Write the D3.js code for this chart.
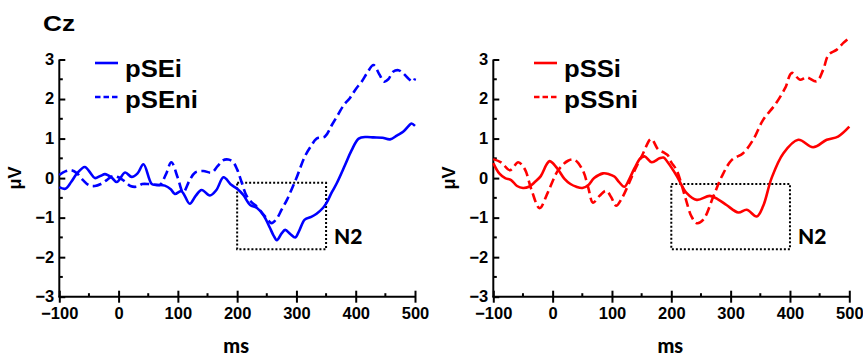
<!DOCTYPE html>
<html>
<head>
<meta charset="utf-8">
<script src="https://cdn.jsdelivr.net/npm/d3@7/dist/d3.min.js"></script>
<style>
  html, body { margin: 0; padding: 0; background: #fff; }
  svg { display: block; font-family: "Liberation Sans", Arial, sans-serif; font-weight: bold; }
</style>
</head>
<body>
<svg id="chart" width="863" height="358"></svg>
<script>
// ---------- data (ms, µV) ----------
const xTicks = [-100, 0, 100, 200, 300, 400, 500];
const yTicks = [-3, -2, -1, 0, 1, 2, 3];

const pSEi_ms = [-100,-90,-80,-70,-57,-47,-40,-30,-23,-12,-3,11,22,32,42,56,65,78,88,95,106,120,130,140,154,165,177,190,200,210,222,233,245,255,261,267,275,281,290,298,305,314,325,334,345,351,360,368,382,393,405,418,430,445,458,470,480,490,494,500];
const pSEi_uv = [-0.23,-0.27,-0.1,0.12,0.28,0.12,0.0,0.06,0.1,0.02,-0.1,0.14,0.03,0.12,0.35,-0.15,-0.17,-0.19,-0.28,-0.4,-0.33,-0.65,-0.45,-0.3,-0.44,-0.3,0.02,-0.17,-0.27,-0.42,-0.68,-0.75,-0.95,-1.25,-1.44,-1.57,-1.4,-1.31,-1.42,-1.5,-1.32,-1.05,-0.98,-0.9,-0.75,-0.62,-0.35,-0.13,0.33,0.7,1.0,1.04,1.03,1.02,0.98,1.08,1.17,1.33,1.38,1.32];

const pSEni_ms = [-100,-90,-80,-70,-60,-50,-40,-30,-20,-10,0,10,20,30,40,50,60,70,80,89,100,109,120,129,143,157,167,176,185,193,200,207,216,225,233,242,250,258,267,275,284,292,300,314,325,334,348,360,370,380,390,400,410,420,430,440,448,455,463,472,480,490,497,500];
const pSEni_uv = [0.08,0.17,0.2,0.12,-0.05,-0.18,-0.2,-0.15,-0.05,0.05,0.02,-0.08,-0.2,-0.22,-0.15,-0.15,-0.17,-0.17,0.1,0.4,0.0,-0.36,-0.05,0.14,0.18,0.14,0.3,0.45,0.47,0.41,0.22,-0.08,-0.45,-0.62,-0.72,-0.88,-1.02,-1.14,-1.02,-0.8,-0.55,-0.28,0.0,0.54,0.82,1.0,1.05,1.35,1.6,1.85,2.02,2.25,2.44,2.68,2.86,2.62,2.44,2.5,2.69,2.73,2.65,2.5,2.44,2.52];

const pSSi_ms = [-100,-90,-80,-70,-60,-50,-40,-30,-20,-10,-5,0,10,20,30,40,50,60,70,85,95,104,112,121,130,138,148,155,167,180,187,194,209,226,243,265,280,293,313,327,344,355,369,389,414,439,462,481,500];
const pSSi_uv = [0.38,0.12,0.0,-0.05,-0.2,-0.25,-0.22,-0.1,0.05,0.35,0.43,0.38,0.2,-0.02,-0.15,-0.22,-0.25,-0.18,0.0,0.12,0.1,0.04,-0.1,-0.22,0.0,0.25,0.5,0.55,0.4,0.5,0.52,0.4,0.06,-0.38,-0.55,-0.45,-0.55,-0.68,-0.87,-0.8,-0.97,-0.7,0.0,0.63,0.97,0.78,0.97,1.05,1.3];

const pSSni_ms = [-100,-87,-72,-58,-47,-36,-22,-8,9,26,37,51,60,68,79,90,99,107,116,127,138,152,166,178,187,194,200,209,223,234,243,254,271,285,302,321,338,355,375,392,403,417,428,445,456,465,479,490,500];
const pSSni_uv = [0.48,0.4,0.2,0.4,0.23,-0.28,-0.76,-0.36,0.19,0.44,0.46,0.19,-0.24,-0.62,-0.45,-0.32,-0.49,-0.7,-0.53,-0.19,0.19,0.61,0.99,0.72,0.65,0.58,0.4,0.2,-0.46,-0.97,-1.14,-1.05,-0.46,0.04,0.46,0.63,0.97,1.48,1.86,2.28,2.66,2.49,2.55,2.45,2.74,3.12,3.25,3.42,3.55];

const legendLeft = ["pSEi", "pSEni"];
const legendRight = ["pSSi", "pSSni"];
const colorLeft = "#0000ff";
const colorRight = "#ff0000";

// ---------- drawing ----------
const svg = d3.select("#chart");

svg.append("text").attr("x", 43).attr("y", 30.5)
  .attr("font-size", 22.5).attr("textLength", 32).attr("lengthAdjust", "spacingAndGlyphs")
  .text("Cz");

function panel(opts) {
  const x = d3.scaleLinear().domain([-100, 500]).range([opts.x0, opts.x1]);
  const y = d3.scaleLinear().domain([-3, 3]).range([296.7, 59.5]);
  const g = svg.append("g");

  // minor ticks
  const minorX = d3.range(-50, 500, 100);
  g.selectAll(".mx").data(minorX).join("line")
    .attr("x1", d => x(d)).attr("x2", d => x(d))
    .attr("y1", y(-3)).attr("y2", y(-3) - 3.5)
    .attr("stroke", "#000").attr("stroke-width", 2);
  const minorY = d3.range(-2.5, 3, 1);
  g.selectAll(".my").data(minorY).join("line")
    .attr("x1", x(-100)).attr("x2", x(-100) + 3.5)
    .attr("y1", d => y(d)).attr("y2", d => y(d))
    .attr("stroke", "#000").attr("stroke-width", 2);

  // x axis
  const xa = g.append("g").attr("transform", `translate(0,${y(-3)})`)
    .call(d3.axisBottom(x).tickValues(xTicks).tickSizeInner(6).tickSizeOuter(0).tickPadding(5).tickFormat(d3.format("d")));
  xa.selectAll(".tick line").attr("y1", -6);
  // y axis
  const ya = g.append("g").attr("transform", `translate(${x(-100)},0)`)
    .call(d3.axisLeft(y).tickValues(yTicks).tickSizeInner(-6).tickSizeOuter(0).tickPadding(5).tickFormat(d3.format("d")));
  [xa, ya].forEach(a => {
    a.select(".domain").attr("stroke-width", 2);
    a.selectAll(".tick line").attr("stroke-width", 2);
    a.selectAll("text").attr("font-size", 16.5).attr("font-weight", "bold")
      .attr("font-family", "Liberation Sans, Arial, sans-serif").attr("fill", "#000");
  });
  ya.selectAll("text").attr("dy", "0.3em");
  xa.select(".domain").attr("d", `M${x(-100) - 1},0H${x(500)}`);
  ya.select(".domain").attr("d", `M0,${y(-3)}V${y(3)}`);

  // axis titles
  g.append("text").attr("x", (x(-100) + x(500)) / 2 - 1).attr("y", 353)
    .attr("text-anchor", "middle").attr("font-size", 20)
    .attr("font-family", "Lato, sans-serif").attr("font-weight", 900).text("ms");
  g.append("text").attr("transform", `translate(${opts.ylabX},${y(0)}) rotate(-90)`)
    .attr("text-anchor", "middle").attr("font-size", 18).text("μV");

  // N2 box
  g.append("rect")
    .attr("x", x(200)).attr("y", y(opts.boxTop))
    .attr("width", x(opts.boxEnd) - x(200)).attr("height", y(-1.8) - y(opts.boxTop))
    .attr("fill", "none").attr("stroke", "#000").attr("stroke-width", 2)
    .attr("stroke-dasharray", "2,2");
  g.append("text").attr("x", x(opts.boxEnd) + 8).attr("y", 244)
    .attr("font-size", 21).attr("font-family", "Lato, sans-serif").attr("font-weight", 900)
    .text("N2");

  // curves
  const line = d3.line().x(d => x(d[0])).y(d => y(d[1])).curve(d3.curveCatmullRom.alpha(0.5));
  opts.series.forEach(s => {
    g.append("path").datum(d3.zip(s.ms, s.uv))
      .attr("d", line).attr("fill", "none")
      .attr("stroke", opts.color).attr("stroke-width", 2.6)
      .attr("stroke-linejoin", "round")
      .attr("stroke-dasharray", s.dash ? "9,4.5" : null);
  });

  // legend
  const lg = [63, 97], lb = [76.5, 107.5];
  opts.legend.forEach((name, i) => {
    g.append("line").attr("x1", opts.legX).attr("x2", opts.legX + 23)
      .attr("y1", lg[i]).attr("y2", lg[i])
      .attr("stroke", opts.color).attr("stroke-width", 2.6)
      .attr("stroke-dasharray", i === 1 ? "5.5,3" : null);
    g.append("text").attr("x", opts.legX + 30).attr("y", lb[i])
      .attr("font-size", 23).attr("textLength", opts.legW[i]).attr("lengthAdjust", "spacingAndGlyphs")
      .text(name);
  });
}

panel({
  x0: 59.3, x1: 415, ylabX: 21, color: colorLeft, boxTop: -0.12, boxEnd: 350,
  legX: 95, legend: legendLeft, legW: [57, 73],
  series: [{ms: pSEi_ms, uv: pSEi_uv, dash: false}, {ms: pSEni_ms, uv: pSEni_uv, dash: true}]
});
panel({
  x0: 493.3, x1: 849.3, ylabX: 455, color: colorRight, boxTop: -0.15, boxEnd: 400,
  legX: 534, legend: legendRight, legW: [57, 74],
  series: [{ms: pSSi_ms, uv: pSSi_uv, dash: false}, {ms: pSSni_ms, uv: pSSni_uv, dash: true}]
});
</script>
</body>
</html>
